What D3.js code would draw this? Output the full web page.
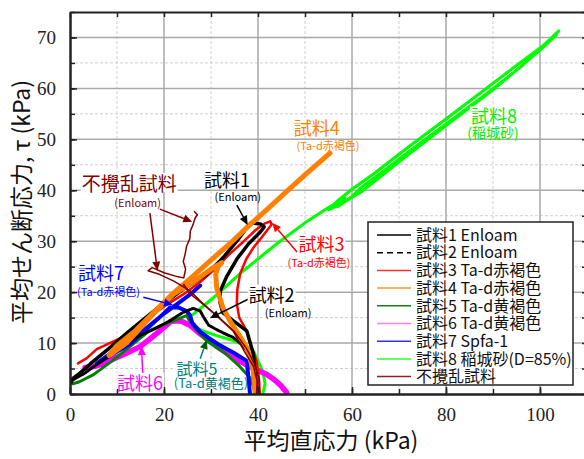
<!DOCTYPE html>
<html>
<head>
<meta charset="utf-8">
<script src="https://cdn.jsdelivr.net/npm/d3@7"></script>
<style>
  body { margin: 0; background: #fff; }
  svg { display: block; }
  .jp { font-family: "Noto Sans CJK JP", "Noto Sans", sans-serif; }
</style>
</head>
<body>
<div id="chart"></div>
<script>
// stress paths, [mean normal stress (kPa), mean shear stress (kPa)]
var s1 = [[39.7,0],[39.5,3],[39,7.9],[37.6,12.4],[34.7,14.4],[32.5,16],[31.9,18],[32,20.3],[33.3,23],[35.5,26.5],[38,29.5],[40.5,31.8],[41.3,32.8],[40.5,33.4],[38.5,33.6],[37.9,33],[35.5,30],[32.6,26.8],[29.1,23.5],[24,20.5],[18.4,16.7],[12.4,12.2],[8.5,9.1],[4.3,5.9],[2,4],[0.4,2.9],[0.2,2.2]];
var s2 = [[39.4,0],[39,3.5],[38.3,7.8],[36.5,9.8],[34.7,11.1],[31.5,12.5],[29.5,13.5],[28.5,15],[27.7,16.3],[26.2,16.8],[24,16],[21.3,14.4],[18,12.8],[14.9,11.5],[12,10],[9,8],[6,6],[3,4],[1,3],[0.3,2.5]];
var s3 = [[40.4,0],[40.2,3],[39.7,6.5],[38.5,9.5],[37.6,12.4],[36,15],[35.5,17.7],[35.6,20.5],[36.2,23.6],[37.5,26.5],[39,28.7],[41,31],[42.9,33.3],[42.6,33.9],[41.5,33.5],[39.5,32.2],[37,30],[34,27.5],[30.4,24.2],[27.7,22],[24,19.5],[20,17.2],[16,14.5],[12,11.5],[8,9.8],[5.7,8.8],[3.5,7],[1.7,6]];
var s4 = [[39.4,0],[39.2,2.5],[39,4.6],[38.3,7],[37.6,9.1],[36,11.5],[34,14.4],[32.5,17],[31.2,20.9],[31,23.5],[31.5,25],[32.3,25.8],[30,24.5],[27,22.5],[24.8,21.2],[22,19.6],[18,16],[15,13],[12,10],[9,8],[8.3,7.6],[10,9.5],[14,12.5],[18,16.2],[22,19.8],[26,23],[30,26.3],[34,29.5],[38,33],[42,36.3],[46,39.7],[50,43],[55.3,47.3]];
var s5 = [[39.5,0],[38.5,3],[36,5.5],[33,8],[29,10.5],[26.5,13],[24.8,15.4],[21,14],[17,12.5],[13,9.5],[9,6.5],[5,3.8],[2,2.4],[0.6,2]];
var s6 = [[46.1,0.3],[45,1.5],[43.5,2.8],[41.8,3.9],[38,5.5],[34.7,7.2],[31,9.5],[27.7,11.8],[25.5,13.5],[23.5,14.4],[21.5,14.3],[19,12.3],[17,10.8],[14.9,9.3],[12,8],[9,6.8],[7.1,5.9],[5,5.4],[3.2,5.2]];
var s7 = [[38.3,0],[38,3],[37.6,6.5],[35,8],[32,9.5],[29.5,11],[27.7,12.2],[26,14],[25.5,15.5],[24.8,16.3],[23,17],[21.3,17],[19,15],[16,12.5],[12.8,9.8],[9,7.8],[5.7,6],[9,8.2],[13,10.5],[17,13.5],[20,15.8],[23,17.8],[25.5,19.5],[27.7,21.3]];
var s8 = [[41,0],[41.5,2],[41,4.5],[39,8.5],[36.5,9.8],[34.7,10.5],[31,11.5],[28,12.5],[26,13.5],[25.2,14.6],[26,15.5],[30,18.5],[36.9,24.2],[44,29.5],[50,33.6],[55,36.6],[58.5,38.5],[57,36.8],[60,38.8],[62,40.6],[66,43.3],[72,47.5],[80,53],[88,58.5],[96,64.3],[104,71.3],[102,69.3],[96,65.2],[88,59.6],[80,54],[72,48.5],[65,43.5],[60,40.2],[57,38],[55,36.2],[57.5,37.2],[62,39.7],[70,45.6],[80,52.7],[90,59.7],[100,67.5],[103.5,70.5]];
var s9a = [[39.7,0],[39.8,2.6],[39,5.5],[37,8.5],[34.7,12.4],[31,15.5],[28,18],[25.5,20.3],[22,22.2],[19,23.5],[16.6,24.2],[17.5,24.8],[20,23.8],[23,23],[24.2,22.8],[24.6,24.5],[24.1,26],[24.5,27.5],[24.8,29],[25.5,30.5],[25.6,32],[26.2,33.3],[26.6,34.5],[27.1,35.2],[26.5,35.8]];
var s9b = [[40.3,0],[40.2,3],[39.2,6],[37.5,9],[35,12.2],[31.5,15.2],[28.5,17.5],[25.5,19.7],[24.2,21.5]];

var legendNames = ["試料1 Enloam", "試料2 Enloam", "試料3 Ta-d赤褐色", "試料4 Ta-d赤褐色", "試料5 Ta-d黄褐色", "試料6 Ta-d黄褐色", "試料7 Spfa-1", "試料8 稲城砂(D=85%)", "不攪乱試料"];
var xTicks = [0, 20, 40, 60, 80, 100];
var yTicks = [0, 10, 20, 30, 40, 50, 60, 70];

var colors = ["#000000", "#000000", "#ff0000", "#ff8000", "#008000", "#ff00ff", "#0000ff", "#00ff00", "#800000"];
var legendColors = ["#000000", "#000000", "#ff3030", "#ff9030", "#108010", "#ff80ff", "#3030ff", "#30ff30", "#902020"];

var svgWidth = 584, svgHeight = 459;
var svg = d3.select("#chart").append("svg")
    .attr("width", svgWidth)
    .attr("height", svgHeight);

var x = d3.scaleLinear().domain([0, 110]).range([70, 587]);
var y = d3.scaleLinear().domain([0, 75]).range([394, 12]);

svg.append("defs").append("clipPath").attr("id", "plot")
  .append("rect").attr("x", 70).attr("y", 12).attr("width", 517).attr("height", 382);

// grid
var grid = svg.append("g");
d3.range(10, 110, 20).forEach(function(v) {
    grid.append("line").attr("x1", x(v)).attr("x2", x(v)).attr("y1", y(0)).attr("y2", y(75))
        .attr("stroke", "#cfcfcf").attr("stroke-dasharray", "3,2");
});
d3.range(5, 75, 10).forEach(function(v) {
    grid.append("line").attr("x1", x(0)).attr("x2", x(110)).attr("y1", y(v)).attr("y2", y(v))
        .attr("stroke", "#cfcfcf").attr("stroke-dasharray", "3,2");
});
xTicks.slice(1).forEach(function(v) {
    grid.append("line").attr("x1", x(v)).attr("x2", x(v)).attr("y1", y(0)).attr("y2", y(75))
        .attr("stroke", "#a9a9a9").attr("stroke-width", 1.5);
});
yTicks.slice(1).forEach(function(v) {
    grid.append("line").attr("x1", x(0)).attr("x2", x(110)).attr("y1", y(v)).attr("y2", y(v))
        .attr("stroke", "#a9a9a9").attr("stroke-width", 1.5);
});

// data
var line = d3.line().x(d => x(d[0])).y(d => y(d[1]));
var plot = svg.append("g").attr("clip-path", "url(#plot)")
    .attr("fill", "none").attr("stroke-linejoin", "round").attr("stroke-linecap", "round");

var draw = [
    {data: s8, c: 7, w: 3},
    {data: s6, c: 5, w: 5.5},
    {data: s5, c: 4, w: 3},
    {data: s7, c: 6, w: 4},
    {data: s2, c: 1, w: 3, dash: "7,1.5"},
    {data: s3, c: 2, w: 2.5},
    {data: s1, c: 0, w: 3.5},
    {data: s4, c: 3, w: 5},
    {data: s9a, c: 8, w: 1.5},
    {data: s9b, c: 8, w: 1.5}
];
draw.forEach(function(d) {
    plot.append("path").datum(d.data)
        .attr("d", line)
        .attr("stroke", colors[d.c])
        .attr("stroke-width", d.w)
        .attr("stroke-dasharray", d.dash || null);
});

// annotations: [label, sub label, colour, label pos, sub pos, arrow from, arrow to, label size, sub size]
var notes = [
    ["試料1", "(Enloam)", "#000000", [33.4, 42.0], [35.7, 38.6], [35.5, 37.1], [37.8, 33.2], 18, 11],
    ["試料2", "(Enloam)", "#000000", [42.9, 19.4], [46.4, 15.9], [38.3, 18.8], [29.8, 14.9], 18, 11],
    ["試料3", "(Ta-d赤褐色)", "#ff0000", [53.5, 29.3], [53.0, 25.7], [48.3, 27.9], [43.0, 33.6], 18, 11],
    ["試料4", "(Ta-d赤褐色)", "#ff8000", [52.5, 52.2], [54.9, 48.7], null, null, 18, 11],
    ["試料8", "(稲城砂)", "#00ee00", [90.2, 54.4], [90.0, 51.3], null, null, 18, 14],
    ["不攪乱試料", "(Enloam)", "#800000", [12.6, 41.2], [14.4, 37.5], [19.1, 36.3], [26.0, 33.8], 19, 11],
    ["", "", "#800000", null, null, [17.0, 35.5], [18.6, 24.2], 0, 0],
    ["試料7", "(Ta-d赤褐色)", "#0000ff", [6.6, 23.7], [8.2, 20.1], [15.6, 19.0], [21.9, 17.5], 18, 11],
    ["試料6", "", "#ff00ff", [14.9, 2.1], null, [15.5, 3.5], [15.2, 9.4], 18, 0],
    ["試料5", "(Ta-d黄褐色)", "#008080", [27.0, 4.8], [30.0, 2.1], [27.7, 6.9], [29.1, 10.6], 16, 13]
];
var arrowFill = {"試料5": "#006000"};

var ann = svg.append("g");
notes.forEach(function(n, i) {
    if (n[5]) {
        var fx = x(n[5][0]), fy = y(n[5][1]), tx = x(n[6][0]), ty = y(n[6][1]);
        var ang = Math.atan2(ty - fy, tx - fx);
        var len = 9, half = 4;
        var bx = tx - len * Math.cos(ang), by = ty - len * Math.sin(ang);
        ann.append("line").attr("x1", fx).attr("y1", fy).attr("x2", bx).attr("y2", by)
            .attr("stroke", n[2]).attr("stroke-width", 1.5);
        ann.append("path")
            .attr("d", "M" + tx + "," + ty +
                "L" + (bx + half * Math.sin(ang)) + "," + (by - half * Math.cos(ang)) +
                "L" + (bx - half * Math.sin(ang)) + "," + (by + half * Math.cos(ang)) + "Z")
            .attr("fill", arrowFill[n[0]] || n[2]);
    }
    if (n[0]) {
        var t = ann.append("text").attr("class", "jp")
            .attr("x", x(n[3][0])).attr("y", y(n[3][1]))
            .attr("text-anchor", "middle").attr("dy", "0.36em")
            .attr("font-size", n[7]).attr("fill", n[2]).text(n[0]);
        var bb = t.node().getBBox();
        ann.insert("rect", function() { return t.node(); })
            .attr("x", bb.x - 1).attr("y", bb.y + 4).attr("width", bb.width + 2).attr("height", bb.height - 8)
            .attr("fill", "#fff");
    }
    if (n[1]) {
        ann.append("text").attr("class", "jp")
            .attr("x", x(n[4][0])).attr("y", y(n[4][1]))
            .attr("text-anchor", "middle").attr("dy", "0.36em")
            .attr("font-size", n[8]).attr("fill", n[2]).text(n[1]);
    }
});

// axes frame and ticks (inward)
var axes = svg.append("g");
axes.append("g").attr("transform", "translate(0," + y(0) + ")")
    .call(d3.axisBottom(x).tickValues(d3.range(0, 111, 10)).tickSizeInner(-5).tickSizeOuter(0).tickFormat(""));
axes.append("g").attr("transform", "translate(0," + y(0) + ")")
    .call(d3.axisBottom(x).tickValues(xTicks).tickSizeInner(-7).tickSizeOuter(0).tickPadding(14));
axes.append("g").attr("transform", "translate(0," + y(75) + ")")
    .call(d3.axisTop(x).tickValues(d3.range(0, 111, 10)).tickSizeInner(-5).tickSizeOuter(0).tickFormat(""));
axes.append("g").attr("transform", "translate(" + x(0) + ",0)")
    .call(d3.axisLeft(y).tickValues(d3.range(0, 76, 5)).tickSizeInner(-5).tickSizeOuter(0).tickFormat(""));
axes.append("g").attr("transform", "translate(" + x(0) + ",0)")
    .call(d3.axisLeft(y).tickValues(yTicks).tickSizeInner(-7).tickSizeOuter(0).tickPadding(14));
axes.append("g").attr("transform", "translate(" + x(110) + ",0)")
    .call(d3.axisRight(y).tickValues(d3.range(0, 76, 5)).tickSizeInner(-5).tickSizeOuter(0).tickFormat(""));
axes.selectAll(".domain").attr("stroke", "#222").attr("stroke-width", 2);
axes.selectAll(".tick line").attr("stroke", "#222").attr("stroke-width", 1.5);
axes.selectAll(".tick text")
    .attr("fill", "#222")
    .attr("font-family", "Times New Roman, Liberation Serif, DejaVu Serif, serif")
    .style("font-family", "'Liberation Serif', 'Times New Roman', 'DejaVu Serif', serif", "important")
    .style("font-size", "19px", "important");

// axis titles
svg.append("text").attr("class", "jp")
    .attr("x", 331).attr("y", 441).attr("dy", "0.36em")
    .attr("text-anchor", "middle")
    .attr("font-size", 23).attr("fill", "#111")
    .text("平均直応力 (kPa)");
svg.append("text").attr("class", "jp")
    .attr("transform", "translate(22,202) rotate(-90)")
    .attr("text-anchor", "middle").attr("dy", "0.36em")
    .attr("font-size", 23).attr("fill", "#111")
    .text("平均せん断応力, τ (kPa)");

// legend
var legend = svg.append("g").attr("transform", "translate(368,222)");
legend.append("rect").attr("width", 205).attr("height", 163)
    .attr("fill", "#fff").attr("stroke", "#222").attr("stroke-width", 1.5);
legendNames.forEach(function(name, i) {
    var ly = 13 + i * 17.7;
    legend.append("line").attr("x1", 9).attr("x2", 43).attr("y1", ly).attr("y2", ly)
        .attr("stroke", legendColors[i]).attr("stroke-width", 1.5)
        .attr("stroke-dasharray", i === 1 ? "6,4" : null);
    legend.append("text").attr("class", "jp")
        .attr("x", 48).attr("y", ly).attr("dy", "0.36em")
        .attr("font-size", 16).attr("fill", "#111").text(name);
});
</script>
</body>
</html>
